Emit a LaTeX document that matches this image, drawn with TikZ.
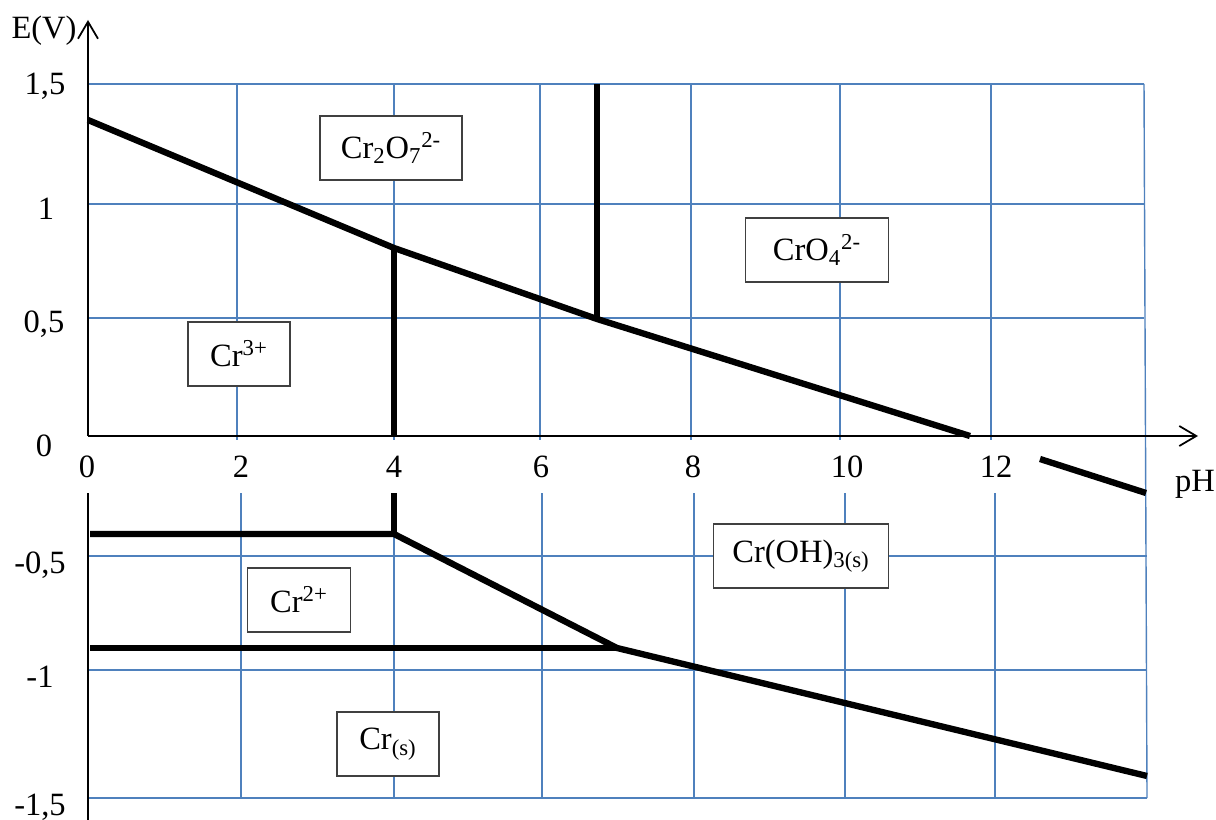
\documentclass[tikz,border=0pt]{standalone}
\usepackage{fontspec}
\setmainfont{Liberation Serif}
\usetikzlibrary{arrows.meta}

\definecolor{gridblue}{RGB}{79,129,189}

\begin{document}
\begin{tikzpicture}[x=0.02cm, y=-0.02cm,
    gridline/.style={gridblue, line width=0.8pt},
    axis/.style={line width=1pt},
    border/.style={line width=3.6pt},
    species/.style={draw=black!75, fill=white, line width=0.8pt,
      minimum height=1.28cm, inner sep=0pt, font=\fontsize{18.5}{21}\selectfont},
    tick/.style={anchor=base, inner sep=0pt, font=\fontsize{18.5}{21}\selectfont}]

  \useasboundingbox (0,0) rectangle (1216,820);

  % ---------- Grid ----------

  % Upper half
  \foreach \x in {237, 394, 540, 691, 840, 991}
    \draw[gridline] (\x, 84) -- (\x, 440);
  \foreach \y in {84, 204, 318}
    \draw[gridline] (88, \y) -- (1144, \y);

  % Lower half
  \foreach \x in {241, 394, 542, 694, 845, 995}
    \draw[gridline] (\x, 493) -- (\x, 798);
  \foreach \y in {556, 670, 798}
    \draw[gridline] (88, \y) -- (1147, \y);

  % pH 14
  \draw[gridline] (1144, 84) -- (1147, 798);

  % ---------- Axes ----------
  \draw[axis, -{Straight Barb[length=3.4mm, width=4mm]}] (88, 436) -- (88, 20);
  \draw[axis, -{Straight Barb[length=3.4mm, width=4mm]}] (88, 436) -- (1198, 436);
  \draw[axis] (88, 493) -- (88, 820);

  % ---------- Boundaries ----------
  \draw[border] (88, 120) -- (394, 248) -- (597, 319) -- (970, 436);
  \draw[border] (597, 84) -- (597, 319);
  \draw[border] (394, 248) -- (394, 436);
  \draw[border] (1040, 459) -- (1146, 493);
  \draw[border] (394, 493) -- (394, 534);
  \draw[border] (90, 534) -- (394, 534) -- (617, 648) -- (1147, 776);
  \draw[border] (90, 648) -- (617, 648);

  % ---------- Species ----------
  \node[species, minimum width=2.84cm] at (391, 148) (dichromate)
    {Cr\textsubscript{2}O\textsubscript{7}\textsuperscript{2-}};
  \node[species, minimum width=2.04cm] at (239, 354) (chromIII) {Cr\textsuperscript{3+}};
  \node[species, minimum width=2.86cm] at (817, 250) (chromate)
    {CrO\textsubscript{4}\textsuperscript{2-}};
  \node[species, minimum width=2.06cm] at (299, 600) (chromII) {Cr\textsuperscript{2+}};
  \node[species, minimum width=2.04cm] at (388, 744) (chromium) {Cr\textsubscript{(s)}};
  \node[species, minimum width=3.5cm] at (801, 556) (hydroxide)
    {Cr(OH)\textsubscript{3(s)}};

  % ---------- Axis labels ----------
  \node[tick] at (44, 39) (Eaxis) {E(V)};
  \node[tick] at (1195, 491) (pHaxis) {pH};

  % E values
  \node[tick] at (45, 95) (E15) {1,5};
  \node[tick] at (46, 220) (E10) {1};
  \node[tick] at (44, 333) (E05) {0,5};
  \node[tick] at (44, 456) (E00) {0};
  \node[tick] at (40, 573) (Em05) {-0,5};
  \node[tick] at (40, 687) (Em10) {-1};
  \node[tick] at (40, 815) (Em15) {-1,5};

  % pH values
  \foreach \x/\v in {87/0, 241/2, 394/4, 541/6, 693/8, 847/10, 996/12}
    \node[tick] at (\x, 477) (pH\v) {\v};
\end{tikzpicture}
\end{document}
